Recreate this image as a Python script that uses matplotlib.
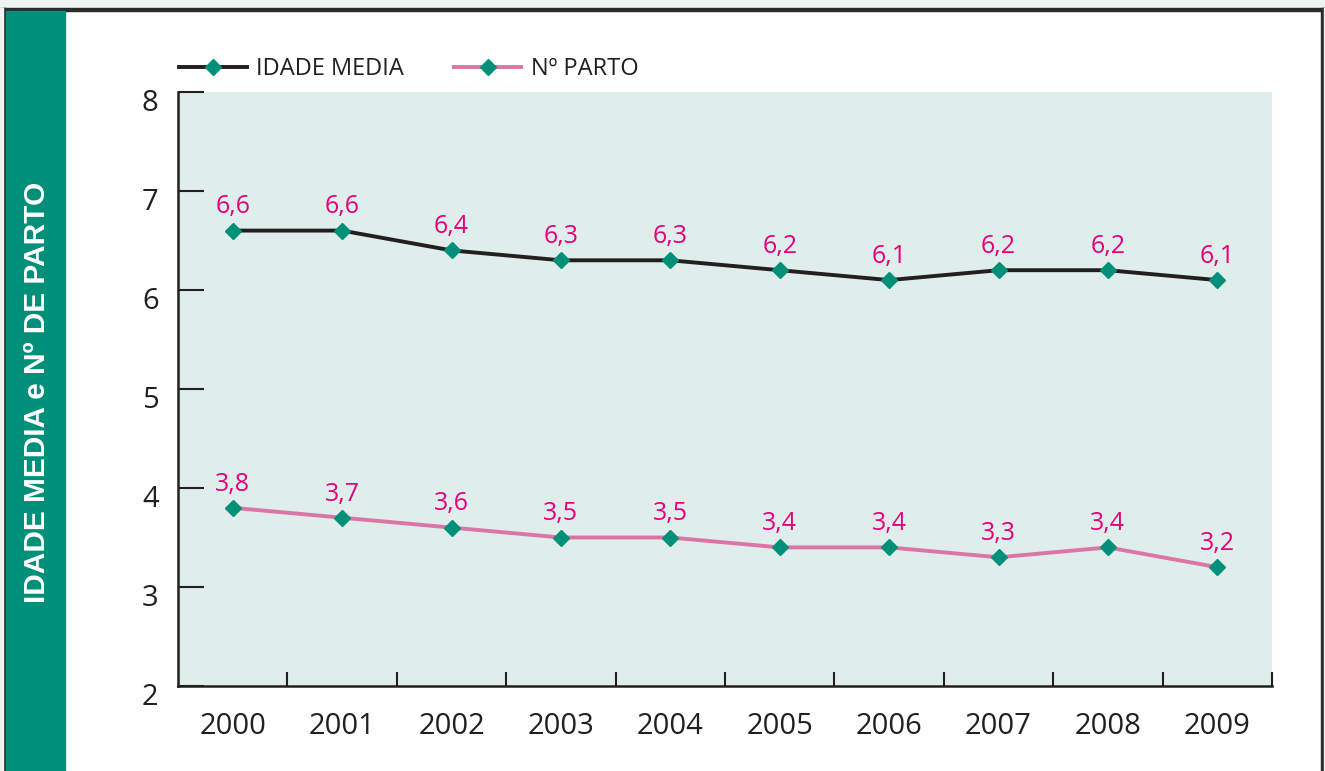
import matplotlib
matplotlib.use('Agg')
import matplotlib.pyplot as plt
import matplotlib.transforms as mtransforms
from matplotlib.patches import Rectangle
from matplotlib.lines import Line2D

years = ['2000', '2001', '2002', '2003', '2004', '2005', '2006', '2007', '2008', '2009']
idade_media = [6.6, 6.6, 6.4, 6.3, 6.3, 6.2, 6.1, 6.2, 6.2, 6.1]
n_parto = [3.8, 3.7, 3.6, 3.5, 3.5, 3.4, 3.4, 3.3, 3.4, 3.2]

plt.rcParams['font.family'] = ['Open Sans', 'DejaVu Sans']

W, H = 1325, 771
fig = plt.figure(figsize=(W/100, H/100), dpi=100)
fig.patch.set_facecolor('white')

# frame pieces, in figure pixels
def px(x0, y0, x1, y1, color):
    fig.patches.append(Rectangle((x0/W, 1-y1/H), (x1-x0)/W, (y1-y0)/H,
                                 transform=fig.transFigure, color=color, zorder=0))

px(0, 0, W, 8, '#eef5f3')
px(0, 8, W, 11, '#2b2b2b')
px(3, 8, 6, H, '#2b2b2b')
px(1321, 8, 1324, H, '#2b2b2b')
px(1324, 8, W, H, '#eef5f3')
px(0, 8, 3, H, '#eef5f3')
px(6, 11, 65, H, '#009079')

fig.text(37/W, 1-392/H, 'IDADE MEDIA e Nº DE PARTO', rotation=90, color='white',
         fontsize=21.5, fontweight='bold', family='Liberation Sans',
         ha='center', va='center')

ax = fig.add_axes([178/W, 1-686/H, (1272-178)/W, (686-92)/H])
ax.set_facecolor('#e0eeeb')

x = list(range(len(years)))
ax.plot(x, idade_media, color='#231f20', lw=2.8, marker='D', ms=8,
        mfc='#009079', mec='#009079', zorder=3)
ax.plot(x, n_parto, color='#dc75a5', lw=2.8, marker='D', ms=8,
        mfc='#009079', mec='#009079', zorder=3)

for series in (idade_media, n_parto):
    for xi, v in zip(x, series):
        ax.annotate(f'{v:.1f}'.replace('.', ','), (xi, v), xytext=(0, 8),
                    textcoords='offset points', ha='center', va='bottom',
                    color='#e5007d', fontsize=18)

ax.set_xlim(-0.5, 9.5)
ax.set_ylim(2, 8)
ax.set_yticks(range(2, 9))
ax.set_xticks(x)
ax.set_xticklabels(years)
ax.set_xticks([i + 0.5 for i in x], minor=True)

for s in ['top', 'right']:
    ax.spines[s].set_visible(False)
for s in ['left', 'bottom']:
    ax.spines[s].set_linewidth(1.8)
    ax.spines[s].set_color('#231f20')

ax.tick_params(axis='y', direction='in', length=19, width=1.5, color='#231f20',
               labelsize=21, pad=14, labelcolor='#231f20')
ax.tick_params(axis='x', which='major', length=0, labelsize=21, pad=19,
               labelcolor='#231f20')
ax.tick_params(axis='x', which='minor', direction='in', length=10, width=1.5,
               color='#231f20')

shift = mtransforms.ScaledTranslation(0, -6/72, fig.dpi_scale_trans)
for lab in ax.get_yticklabels():
    lab.set_transform(lab.get_transform() + shift)

handles = [Line2D([], [], color='#231f20', lw=2.8, marker='D', ms=8,
                  mfc='#009079', mec='#009079'),
           Line2D([], [], color='#dc75a5', lw=2.8, marker='D', ms=8,
                  mfc='#009079', mec='#009079')]
fig.legend(handles, ['IDADE MEDIA', 'Nº PARTO'], loc='center left',
           bbox_to_anchor=(158/W, 1-69/H), ncol=2, frameon=False,
           fontsize=17, handlelength=2.85, handletextpad=0.42, columnspacing=2.1,
           labelcolor='#231f20')

fig.savefig('out.png', dpi=100)
